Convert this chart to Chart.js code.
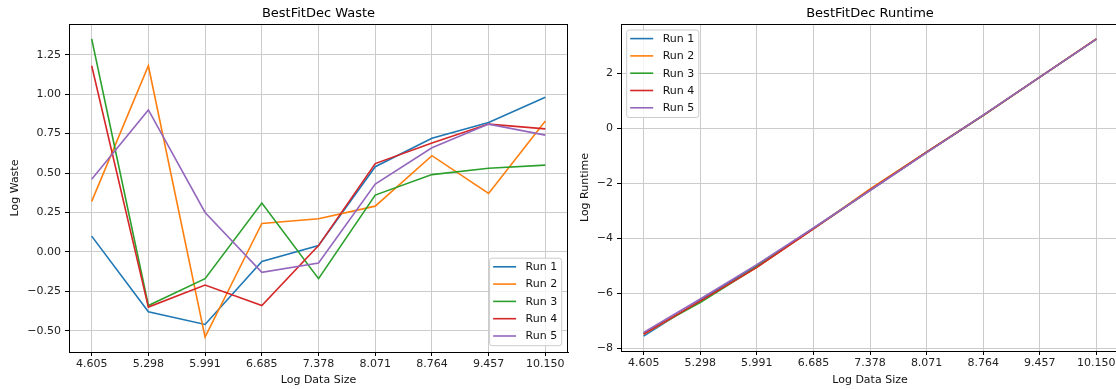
<!DOCTYPE html>
<html>
<head>
<meta charset="utf-8">
<script src="https://cdn.jsdelivr.net/npm/chart.js@4"></script>
<style>
  html, body { margin: 0; padding: 0; background: #fff; overflow: hidden; width: 1116px; height: 389px; }
  canvas { position: absolute; top: 0; }
  #wasteChart { left: 0; }
  #runtimeChart { left: 575px; }
</style>
</head>
<body>
<canvas id="wasteChart" width="575" height="389"></canvas>
<canvas id="runtimeChart" width="560" height="389"></canvas>
<script>
// x values: log of the data size
const logSizes = [4.605, 5.298, 5.991, 6.685, 7.378, 8.071, 8.764, 9.457, 10.150]
const runLabels = ['Run 1', 'Run 2', 'Run 3', 'Run 4', 'Run 5']
const runColors = ['#1f77b4', '#ff7f0e', '#2ca02c', '#d62728', '#9467bd']

// log waste per run
const wasteRun1 = [0.10, -0.38, -0.46, -0.06, 0.04, 0.54, 0.72, 0.82, 0.98]
const wasteRun2 = [0.32, 1.18, -0.54, 0.18, 0.21, 0.29, 0.61, 0.37, 0.83]
const wasteRun3 = [1.35, -0.34, -0.17, 0.31, -0.17, 0.36, 0.49, 0.53, 0.55]
const wasteRun4 = [1.18, -0.35, -0.21, -0.34, 0.04, 0.56, 0.69, 0.81, 0.78]
const wasteRun5 = [0.46, 0.90, 0.25, -0.13, -0.07, 0.43, 0.66, 0.81, 0.74]

// log runtime per run
const runtimeRun1 = [-7.55, -6.25, -4.98, -3.63, -2.25, -0.87, 0.48, 1.86, 3.24]
const runtimeRun2 = [-7.48, -6.30, -5.05, -3.65, -2.20, -0.86, 0.47, 1.86, 3.25]
const runtimeRun3 = [-7.45, -6.33, -5.03, -3.64, -2.25, -0.87, 0.46, 1.86, 3.24]
const runtimeRun4 = [-7.47, -6.28, -5.05, -3.65, -2.24, -0.87, 0.47, 1.86, 3.25]
const runtimeRun5 = [-7.42, -6.20, -4.95, -3.62, -2.26, -0.88, 0.48, 1.86, 3.24]

// tick positions
const wasteTicks = [-0.5, -0.25, 0, 0.25, 0.5, 0.75, 1.0, 1.25]
const runtimeTicks = [-8, -6, -4, -2, 0, 2]

const FONT = "'DejaVu Sans', sans-serif"

function minus(s) {
    return s.replace('-', '\u2212')
}

// 5% margin on each side, like the usual plotting default
function paddedRange(values) {
    let lo = Math.min(...values)
    let hi = Math.max(...values)
    let m = (hi - lo) * 0.05
    return [lo - m, hi + m]
}

// axes frame, title and an inset legend
const framePlugin = {
    id: 'frame',
    afterDraw(chart, args, opts) {
        const ctx = chart.ctx
        const a = chart.chartArea
        ctx.save()

        // legend box
        const sets = chart.data.datasets
        ctx.font = `11px ${FONT}`
        let textW = Math.max(...sets.map(d => ctx.measureText(d.label).width))
        let w = 36 + textW + 4.5
        let rowH = 17.3
        let h = sets.length * rowH + 1
        let x = opts.corner === 'lowerRight' ? a.right - 6.3 - w : a.left + 5.7
        let y = opts.corner === 'lowerRight' ? a.bottom - 6.3 - h : a.top + 6
        ctx.beginPath()
        ctx.roundRect(x, y, w, h, 2.5)
        ctx.fillStyle = 'rgba(255,255,255,0.8)'
        ctx.fill()
        ctx.strokeStyle = '#cccccc'
        ctx.lineWidth = 1
        ctx.stroke()
        sets.forEach((d, i) => {
            let cy = y + 8.6 + i * rowH
            ctx.beginPath()
            ctx.moveTo(x + 3.5, cy)
            ctx.lineTo(x + 26.5, cy)
            ctx.strokeStyle = d.borderColor
            ctx.lineWidth = 1.6
            ctx.stroke()
            ctx.fillStyle = '#111'
            ctx.textBaseline = 'middle'
            ctx.textAlign = 'left'
            ctx.fillText(d.label, x + 36, cy + 0.5)
        })

        // top and right spines
        ctx.strokeStyle = '#000'
        ctx.lineWidth = 1
        ctx.beginPath()
        ctx.moveTo(a.left, a.top + 0.5)
        ctx.lineTo(a.right, a.top + 0.5)
        ctx.moveTo(a.right - 0.5, a.top)
        ctx.lineTo(a.right - 0.5, a.bottom)
        ctx.stroke()

        // title centred over the axes
        ctx.font = `13px ${FONT}`
        ctx.fillStyle = '#000'
        ctx.textAlign = 'center'
        ctx.textBaseline = 'alphabetic'
        ctx.fillText(opts.title, (a.left + a.right) / 2, 17)
        ctx.restore()
    }
}

function makeChart(canvas, runs, opts) {
    let xr = paddedRange(logSizes)
    let yr = paddedRange(runs.flat())
    let datasets = runs.map((vals, i) => ({
        label: runLabels[i],
        data: logSizes.map((s, j) => ({ x: s, y: vals[j] })),
        borderColor: runColors[i],
        backgroundColor: runColors[i],
        borderWidth: 1.6,
        pointRadius: 0,
        tension: 0,
        order: runs.length - i
    }))
    return new Chart(canvas, {
        type: 'line',
        data: { datasets: datasets },
        plugins: [framePlugin],
        options: {
            responsive: false,
            animation: false,
            events: [],
            layout: { padding: { top: 24, right: opts.rightPad, left: 0, bottom: 0 } },
            plugins: {
                legend: { display: false },
                tooltip: { enabled: false },
                frame: { title: opts.title, corner: opts.corner }
            },
            scales: {
                x: {
                    type: 'linear',
                    min: xr[0],
                    max: xr[1],
                    afterBuildTicks: s => { s.ticks = logSizes.map(v => ({ value: v })) },
                    afterFit: s => { s.height = opts.xAxisH },
                    grid: { color: '#cccccc', lineWidth: 1, tickColor: '#000', tickLength: 4 },
                    border: { color: '#000', width: 1 },
                    ticks: {
                        font: { family: FONT, size: 11 },
                        color: '#222',
                        padding: 1.5,
                        maxRotation: 0,
                        autoSkip: false,
                        callback: v => v.toFixed(3)
                    },
                    title: {
                        display: true,
                        text: 'Log Data Size',
                        font: { family: FONT, size: 11 },
                        color: '#111',
                        padding: 2.4
                    }
                },
                y: {
                    type: 'linear',
                    min: yr[0],
                    max: yr[1],
                    afterBuildTicks: s => { s.ticks = opts.yTicks.map(v => ({ value: v })) },
                    afterFit: s => { s.width = opts.yAxisW },
                    grid: { color: '#cccccc', lineWidth: 1, tickColor: '#000', tickLength: 4 },
                    border: { color: '#000', width: 1 },
                    ticks: {
                        font: { family: FONT, size: 11 },
                        color: '#222',
                        padding: 4,
                        autoSkip: false,
                        callback: v => minus(v.toFixed(opts.yDigits))
                    },
                    title: {
                        display: true,
                        text: opts.yLabel,
                        font: { family: FONT, size: 11 },
                        color: '#111',
                        padding: opts.yTitlePad
                    }
                }
            }
        }
    })
}

makeChart(document.getElementById('wasteChart'),
    [wasteRun1, wasteRun2, wasteRun3, wasteRun4, wasteRun5],
    { title: 'BestFitDec Waste', yLabel: 'Log Waste', corner: 'lowerRight', yTicks: wasteTicks,
      yDigits: 2, yAxisW: 69, xAxisH: 37, rightPad: 7, yTitlePad: 8.4 })

makeChart(document.getElementById('runtimeChart'),
    [runtimeRun1, runtimeRun2, runtimeRun3, runtimeRun4, runtimeRun5],
    { title: 'BestFitDec Runtime', yLabel: 'Log Runtime', corner: 'upperLeft', yTicks: runtimeTicks,
      yDigits: 0, yAxisW: 46, xAxisH: 38, rightPad: 16, yTitlePad: 3.4 })
</script>
</body>
</html>
